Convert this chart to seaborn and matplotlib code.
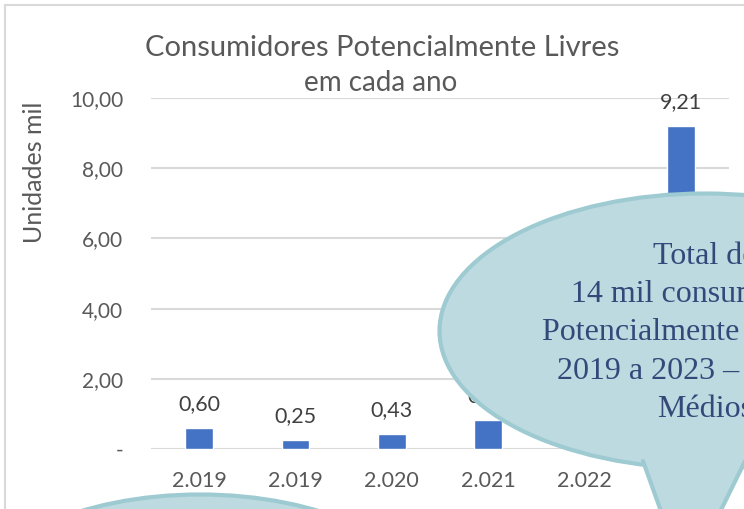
import numpy as np
import pandas as pd
import seaborn as sns
import matplotlib.pyplot as plt
from matplotlib.patches import Ellipse, Polygon, Rectangle
from matplotlib.lines import Line2D

# data (thousand units per year)
anos = ["2.019", "2.019", "2.020", "2.021", "2.022", "2.023"]
valores = [0.60, 0.25, 0.43, 0.82, 2.69, 9.21]
yticks = [0, 2, 4, 6, 8, 10]
ytick_labels = ["-", "2,00", "4,00", "6,00", "8,00", "10,00"]
callout_text = "Total de\n14 mil consumidores\nPotencialmente Livres de\n2019 a 2023 \u2013 Grandes\nMédios"

sns.set_theme(style="white")
plt.rcParams['font.family'] = ['Lato', 'DejaVu Sans']

W, H = 744, 509
fig = plt.figure(figsize=(W / 100, H / 100), dpi=100)

def fx(px):
    return px / W

def fy(py):
    return 1 - py / H

ax = fig.add_axes([fx(151), fy(449), fx(729) - fx(151), fy(98) - fy(449)])

df = pd.DataFrame({"pos": [str(i) for i in range(len(anos))], "valor": valores})
sns.barplot(data=df, x="pos", y="valor", color="#4472C4", width=0.29,
            saturation=1, ax=ax, zorder=3)
ax.bar_label(ax.containers[0], labels=[f"{v:.2f}".replace(".", ",") for v in valores],
             padding=10, fontsize=15.5, color="#404040")

ax.set_ylim(0, 10)
ax.set_yticks(yticks)
ax.set_yticklabels(ytick_labels)
ax.set_xticks(range(len(anos)))
ax.set_xticklabels(anos)
ax.set_xlim(-0.5, len(anos) - 0.5)
ax.tick_params(axis="y", length=0, pad=20, labelsize=15, labelcolor="#595959")
ax.tick_params(axis="x", length=0, pad=16, labelsize=15.5, labelcolor="#595959")
ax.set_xlabel("")
ax.set_ylabel("")
for s in ax.spines.values():
    s.set_visible(False)
ax.grid(axis="y", color="#D9D9D9", lw=1.5, zorder=0)
ax.set_axisbelow(True)

fig.text(fx(382), fy(48), "Consumidores Potencialmente Livres", ha="center", va="center",
         fontsize=21, color="#595959")
fig.text(fx(381), fy(83), "em cada ano", ha="center", va="center",
         fontsize=20, color="#595959")
fig.text(fx(35), fy(172), "Unidades mil", ha="center", va="center", rotation=90,
         fontsize=18, color="#595959")

# chart border
fig.add_artist(Rectangle((fx(5), fy(600)), fx(900), fy(5) - fy(600), transform=fig.transFigure,
                         fill=False, ec="#D9D9D9", lw=1.5, zorder=1))

fill_c = "#BDDAE0"
edge_c = "#9ECAD1"

# callout at right
fig.add_artist(Ellipse((fx(705), fy(331)), 2 * 265.5 / W, 2 * 137.5 / H,
                       transform=fig.transFigure, fc=fill_c, ec=edge_c, lw=3, zorder=10))
tail = [(fx(639.4), fy(451)), (fx(686), fy(581)), (fx(750), fy(451))]
fig.add_artist(Polygon(tail, closed=True, transform=fig.transFigure, fc=fill_c, ec="none", zorder=11))
fig.add_artist(Line2D([fx(643), fx(686), fx(750)], [fy(461), fy(581), fy(451)],
                      transform=fig.transFigure, color=edge_c, lw=3, zorder=12))
fig.text(fx(705), fy(333), callout_text, ha="center", va="center", multialignment="center",
         fontsize=23, linespacing=1.42, color="#34497A",
         family=["Liberation Serif", "DejaVu Serif"], zorder=13)

# callout at bottom left
fig.add_artist(Ellipse((fx(200), fy(603)), 2 * 223.5 / W, 2 * 108.5 / H,
                       transform=fig.transFigure, fc=fill_c, ec=edge_c, lw=3, zorder=10))

fig.savefig("out.png", dpi=100)
